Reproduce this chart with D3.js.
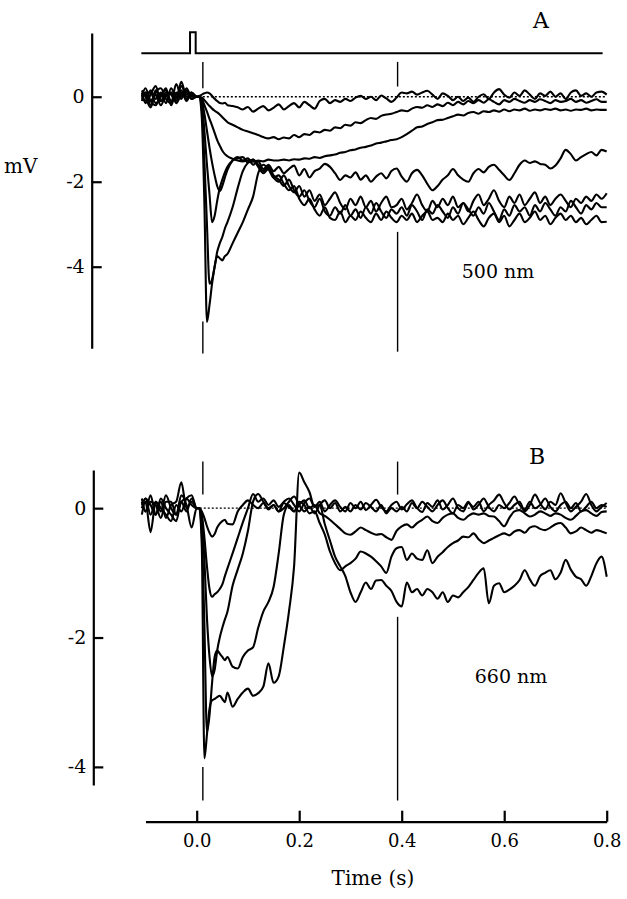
<!DOCTYPE html>
<html><head><meta charset="utf-8">
<script src="https://cdn.jsdelivr.net/npm/d3@7"></script>
<style>
body{margin:0;background:#fff;}
svg{display:block;}
text{font-family:"DejaVu Serif","Liberation Serif",serif;fill:#000;}
</style>
</head><body>
<svg id="chart" width="627" height="899"></svg>
<script>
// ---------- time grid (s) ----------
const timePre = [-0.107,-0.1,-0.09,-0.08,-0.07,-0.06,-0.05,-0.04,-0.03,-0.02,-0.01,0];
const timeOnset = [0.005,0.01,0.015,0.02,0.025,0.03,0.035,0.04,0.045,0.05,0.055,0.06];
const timePost = [0.07,0.08,0.09,0.10,0.11,0.12,0.13,0.14,0.15,0.16,
0.17,0.18,0.19,0.20,0.21,0.22,0.23,0.24,0.25,0.26,
0.27,0.28,0.29,0.30,0.31,0.32,0.33,0.34,0.35,0.36,
0.37,0.38,0.39,0.40,0.41,0.42,0.43,0.44,0.45,0.46,
0.47,0.48,0.49,0.50,0.51,0.52,0.53,0.54,0.55,0.56,
0.57,0.58,0.59,0.60,0.61,0.62,0.63,0.64,0.65,0.66,
0.67,0.68,0.69,0.70,0.71,0.72,0.73,0.74,0.75,0.76,
0.77,0.78,0.79,0.80];
const times = timePre.concat(timeOnset, timePost);

// ---------- Panel A (500 nm) traces, mV ----------
const traceA1 = [0.05,-0.1,0.15,-0.05,0.1,-0.15,0.2,0,0.1,-0.05,0.05,0,
0.02,0.05,0.08,0.1,0.08,0.02,-0.05,-0.1,-0.15,-0.16,-0.14,-0.2,
-0.22,-0.25,-0.3,-0.24,-0.35,-0.28,-0.22,-0.32,-0.26,-0.18,
-0.3,-0.22,-0.15,-0.25,-0.12,-0.2,-0.28,-0.1,-0.05,-0.15,
-0.08,-0.12,-0.05,-0.1,-0.02,0.02,-0.05,0,-0.08,0.03,
-0.04,-0.12,-0.02,0.1,0.08,0.12,0.05,0.1,0.14,0.05,
-0.05,0.08,0.02,-0.08,0,-0.1,-0.02,-0.12,0,0.06,
-0.05,0.1,0.18,0.05,-0.02,0.1,0.02,0.15,0.05,-0.05,
0.08,0.02,0.12,0,0.08,-0.05,0.1,0.15,0.02,0.08,
0,0.1,0.12,0.05];
const traceA2 = [-0.1,0.1,-0.2,0.15,-0.1,0.1,0.05,-0.1,0.25,0.05,0.1,0,
0,-0.02,-0.08,-0.15,-0.22,-0.28,-0.33,-0.37,-0.42,-0.48,-0.54,-0.6,
-0.66,-0.72,-0.78,-0.82,-0.86,-0.9,-0.95,-0.98,-0.95,-1.0,
-0.96,-0.98,-0.9,-0.95,-0.88,-0.9,-0.82,-0.84,-0.78,-0.8,
-0.72,-0.74,-0.66,-0.68,-0.6,-0.62,-0.55,-0.5,-0.52,-0.45,
-0.42,-0.4,-0.36,-0.32,-0.34,-0.28,-0.24,-0.26,-0.2,-0.24,
-0.18,-0.22,-0.14,-0.2,-0.12,-0.18,-0.1,-0.15,-0.08,-0.14,
-0.06,-0.12,-0.18,-0.08,-0.12,-0.05,-0.1,-0.14,-0.08,-0.12,
-0.06,-0.1,-0.15,-0.08,-0.12,-0.1,-0.05,-0.12,-0.08,-0.14,
-0.1,-0.06,-0.12,-0.12];
const traceA3 = [0.15,0.0,-0.25,0.1,0.2,-0.05,-0.15,0.3,0.0,0.15,-0.05,0,
0,-0.05,-0.2,-0.35,-0.52,-0.68,-0.85,-1.02,-1.15,-1.27,-1.35,-1.4,
-1.46,-1.5,-1.52,-1.5,-1.53,-1.5,-1.52,-1.48,-1.5,-1.5,
-1.48,-1.5,-1.47,-1.48,-1.45,-1.46,-1.42,-1.44,-1.4,-1.38,
-1.36,-1.32,-1.3,-1.26,-1.24,-1.2,-1.18,-1.15,-1.1,-1.08,
-1.05,-1.02,-1.0,-0.95,-0.88,-0.8,-0.72,-0.7,-0.64,-0.6,
-0.55,-0.54,-0.5,-0.46,-0.42,-0.44,-0.38,-0.36,-0.4,-0.34,
-0.36,-0.32,-0.35,-0.3,-0.34,-0.3,-0.32,-0.28,-0.33,-0.3,
-0.32,-0.29,-0.31,-0.28,-0.32,-0.3,-0.33,-0.3,-0.31,-0.28,
-0.32,-0.3,-0.31,-0.31];
const traceA4 = [0,0.2,-0.1,-0.2,0.05,0.15,-0.1,0.05,0.15,-0.1,0.1,0,
0,-0.1,-0.4,-0.8,-1.2,-1.55,-1.85,-2.1,-2.22,-2.1,-1.9,-1.72,
-1.5,-1.42,-1.5,-1.45,-1.6,-1.52,-1.7,-1.6,-1.75,-1.65,
-1.8,-1.7,-1.62,-1.85,-1.7,-1.9,-1.75,-1.69,-1.58,-1.65,
-1.8,-1.96,-1.85,-1.9,-1.78,-1.95,-1.85,-2.0,-1.88,-1.8,
-1.92,-1.75,-1.69,-1.88,-2.0,-1.8,-1.72,-1.85,-2.05,-2.2,
-2.1,-1.95,-1.85,-1.7,-1.85,-1.95,-2.0,-1.8,-1.7,-1.78,
-1.65,-1.6,-1.72,-1.85,-1.96,-1.8,-1.6,-1.5,-1.56,-1.52,
-1.58,-1.6,-1.69,-1.62,-1.45,-1.25,-1.35,-1.5,-1.42,-1.35,
-1.3,-1.38,-1.25,-1.29];
const traceA5 = [0.1,-0.15,0.05,0.25,-0.1,0,0.1,-0.05,0.35,0,0.05,0,
0,-0.15,-0.8,-1.6,-2.3,-2.95,-2.8,-2.45,-2.15,-1.95,-1.78,-1.65,
-1.5,-1.45,-1.42,-1.55,-1.48,-1.65,-1.8,-1.7,-1.9,-2.0,
-1.85,-2.1,-2.25,-2.1,-2.35,-2.2,-2.45,-2.3,-2.55,-2.4,
-2.25,-2.5,-2.65,-2.4,-2.55,-2.35,-2.6,-2.45,-2.7,-2.5,
-2.35,-2.6,-2.55,-2.4,-2.65,-2.5,-2.3,-2.55,-2.7,-2.45,
-2.6,-2.4,-2.55,-2.35,-2.6,-2.5,-2.7,-2.45,-2.3,-2.55,
-2.4,-2.2,-2.45,-2.6,-2.35,-2.5,-2.3,-2.55,-2.4,-2.25,
-2.5,-2.35,-2.55,-2.4,-2.3,-2.45,-2.6,-2.4,-2.5,-2.35,
-2.45,-2.3,-2.4,-2.27];
const traceA6 = [-0.05,0.1,0.1,-0.15,0,0.2,-0.2,0.1,-0.05,0.2,0,0,
0,-0.3,-1.5,-3.0,-4.4,-4.3,-4.0,-3.65,-3.45,-3.3,-3.1,-2.95,
-2.6,-2.15,-1.75,-1.55,-1.48,-1.6,-1.75,-1.65,-1.85,-1.95,
-2.1,-1.95,-2.2,-2.35,-2.2,-2.45,-2.6,-2.4,-2.7,-2.8,
-2.6,-2.75,-2.55,-2.8,-2.65,-2.85,-2.6,-2.75,-2.5,-2.7,
-2.85,-2.65,-2.75,-2.6,-2.8,-2.55,-2.7,-2.9,-2.65,-2.75,
-2.55,-2.7,-2.85,-2.6,-2.75,-2.5,-2.65,-2.8,-2.6,-2.75,
-2.5,-2.7,-2.9,-2.65,-2.8,-2.55,-2.7,-2.6,-2.8,-2.55,
-2.7,-2.5,-2.65,-2.8,-2.6,-2.7,-2.45,-2.6,-2.75,-2.55,
-2.65,-2.5,-2.6,-2.6];
const traceA7 = [0.1,0.05,-0.1,0.05,-0.2,0.05,0.1,-0.15,0.05,0.1,-0.05,0,
0,-0.5,-2.5,-5.3,-4.9,-4.4,-4.0,-3.75,-3.8,-3.85,-3.75,-3.7,
-3.45,-3.2,-2.95,-2.65,-2.35,-1.8,-1.6,-1.7,-1.9,-1.85,
-2.05,-2.2,-2.1,-2.4,-2.55,-2.4,-2.65,-2.8,-2.6,-2.85,
-2.9,-2.7,-2.95,-2.8,-2.9,-2.7,-2.85,-2.95,-2.75,-2.9,
-2.7,-2.85,-2.95,-2.8,-2.9,-2.75,-2.95,-2.8,-2.7,-2.9,
-2.85,-2.95,-2.75,-2.9,-2.8,-3.0,-2.85,-2.7,-2.9,-3.05,
-2.85,-2.75,-2.95,-2.8,-3.05,-2.9,-2.75,-2.95,-2.85,-2.7,
-2.9,-2.8,-3.0,-2.85,-2.75,-2.9,-2.8,-2.95,-2.85,-3.0,
-2.9,-2.8,-2.95,-2.94];

// ---------- Panel B (660 nm) traces, mV ----------
const traceB1 = [0.05,0.15,-0.1,0.1,-0.05,0.2,0.0,-0.1,0.1,0.15,0.05,0,
0,-0.05,-0.15,-0.28,-0.38,-0.44,-0.4,-0.3,-0.24,-0.2,-0.18,-0.24,
-0.25,-0.05,0.05,0.12,0.05,0,0.08,-0.02,0.05,-0.05,
0,0.1,0.18,0.05,-0.05,0.02,-0.08,0.05,0.12,0,
0.08,-0.05,0.02,-0.05,0.05,-0.02,0.08,0.02,-0.05,0.05,
-0.08,0,-0.05,0.02,-0.05,0.08,0,0.1,0.02,-0.05,
0.05,0.12,0,-0.08,0.05,0,0.1,-0.02,0.05,0.15,
0.02,-0.05,0.05,0,0.08,0.18,0.05,-0.02,0.1,0,
0.05,0.15,0.02,-0.05,0.05,0.1,0,0.08,-0.05,0.02,
0.1,0,0.05,0.02];
const traceB2 = [0.1,-0.05,0.2,-0.1,0.1,-0.15,0.05,0.1,0.4,0.0,0.1,0,
0,-0.1,-0.45,-0.9,-1.25,-1.37,-1.33,-1.3,-1.25,-1.18,-1.05,-0.93,
-0.7,-0.46,-0.22,0,0.22,0.1,0.15,0.05,0.12,0.02,
0.1,0.15,0.05,-0.05,0.08,0.15,0.02,0.1,-0.05,0.05,
0.12,0.02,-0.05,0.08,0,0.1,-0.03,0.05,0.13,0.02,
-0.05,0.05,0.1,-0.02,0.06,0.12,0,-0.06,0.08,0.02,
0.12,-0.02,0.05,0.15,0,-0.05,0.08,0.02,0.1,-0.05,
0.05,0.12,0.21,0.08,-0.02,0.05,0.1,-0.05,0.05,0.21,
0.08,-0.02,0.1,0.05,0.23,0.08,-0.05,0.02,0.1,0.22,
0.05,-0.05,0.02,0.08];
const traceB3 = [-0.1,0.1,-0.37,0.1,0.0,-0.1,-0.2,0.05,-0.05,0.15,0.2,0,
0,-0.15,-0.8,-1.7,-2.3,-2.6,-2.5,-2.2,-2.0,-1.85,-1.72,-1.6,
-1.2,-0.95,-0.7,-0.35,0.1,0.22,0.1,0,0.05,-0.05,
0.08,0.02,-0.05,0.05,0.12,0,0.05,-0.08,-0.12,-0.18,
-0.25,-0.32,-0.39,-0.41,-0.36,-0.3,-0.34,-0.38,-0.41,-0.4,
-0.45,-0.49,-0.35,-0.28,-0.25,-0.3,-0.23,-0.18,-0.13,-0.2,
-0.23,-0.15,-0.1,-0.08,-0.15,-0.18,-0.12,-0.08,-0.1,-0.08,
-0.12,-0.13,-0.2,-0.28,-0.15,-0.05,-0.03,-0.08,-0.13,-0.1,
-0.05,-0.08,-0.12,-0.08,-0.1,-0.15,-0.18,-0.12,-0.05,-0.03,
-0.08,-0.12,-0.06,-0.05];
const traceB4 = [0.0,0.15,0.05,-0.1,0.15,0.0,-0.1,-0.2,0.1,-0.05,0.15,0,
0,-0.4,-1.8,-3.46,-3.2,-2.7,-2.3,-2.2,-2.25,-2.3,-2.35,-2.3,
-2.45,-2.48,-2.3,-2.2,-2.15,-1.85,-1.6,-1.45,-1.22,-0.7,
-0.1,0.05,-0.05,0.1,0.05,-0.08,-0.05,-0.23,-0.41,-0.67,
-0.85,-0.96,-0.9,-0.85,-0.78,-0.67,-0.7,-0.75,-0.82,-0.9,
-1.0,-0.75,-0.62,-0.6,-0.8,-0.7,-0.78,-0.8,-0.65,-0.85,
-0.75,-0.68,-0.6,-0.54,-0.5,-0.44,-0.45,-0.39,-0.48,-0.54,
-0.5,-0.46,-0.42,-0.39,-0.42,-0.36,-0.34,-0.38,-0.3,-0.28,
-0.32,-0.34,-0.3,-0.25,-0.23,-0.3,-0.39,-0.36,-0.3,-0.34,
-0.38,-0.34,-0.36,-0.39];
const traceB5 = [0.15,-0.05,0.1,0.05,-0.15,0.1,0.1,-0.1,0.2,0.05,-0.3,0,
0,-0.6,-3.87,-3.5,-3.1,-2.97,-2.95,-2.92,-2.9,-2.95,-3.0,-2.85,
-3.07,-2.95,-2.85,-2.79,-2.9,-2.86,-2.76,-2.4,-2.7,-2.6,
-2.14,-1.6,-0.9,0.55,0.4,0.25,0.02,0.05,-0.25,-0.5,
-0.75,-0.9,-1.05,-1.3,-1.45,-1.3,-1.15,-1.25,-1.12,-1.11,
-1.2,-1.28,-1.45,-1.52,-1.15,-1.3,-1.25,-1.35,-1.25,-1.3,
-1.4,-1.3,-1.45,-1.35,-1.38,-1.3,-1.22,-1.11,-1.0,-0.93,
-1.47,-1.2,-1.16,-1.3,-1.26,-1.2,-1.11,-0.96,-1.1,-1.2,
-1.05,-1.0,-0.96,-1.1,-1.0,-0.8,-0.95,-1.06,-1.1,-1.2,
-1.05,-0.85,-0.75,-1.06];

const tracesA = [traceA1,traceA2,traceA3,traceA4,traceA5,traceA6,traceA7];
const tracesB = [traceB1,traceB2,traceB3,traceB4,traceB5];

// ---------- stimulus monitor (panel A top) ----------
const stimTimes  = [-0.108,-0.013,-0.013,-0.002,-0.002,0.792];
const stimLevels = [0,0,1,1,0,0];

// ---------- vertical time markers (s) and their segments (mV) ----------
const markerTimes = [0.012, 0.392];
const markerSegA = [[[0.82,0.2],[-5.29,-6.04]], [[0.82,0.24],[-3.18,-6.0]]];
const markerSegB = [[[0.72,0.21],[-4.0,-4.52]], [[0.72,0.21],[-1.68,-4.52]]];
const zeroLineStart = [0.012, 0.006];

// ---------- axis ticks & labels ----------
const xTicks = [0,0.2,0.4,0.6,0.8];
const yTicks = [0,-2,-4];
const xLabel = "Time (s)";
const yLabel = "mV";
const panelLabels = ["A","B"];
const wavelengthLabels = ["500 nm","660 nm"];

// ================= drawing =================
const svg = d3.select("#chart");
const x = d3.scaleLinear().domain([-0.1,0.8]).range([145.45,606.7]);
const yA = d3.scaleLinear().domain([1.5,-5.92]).range([33,348.3]);
const yB = d3.scaleLinear().domain([0.59,-4.28]).range([470,785]);
const yStim = d3.scaleLinear().domain([0,1]).range([53.3,32.3]);

function drawPanel(traces, y, segs, zeroStart, axisX){
  const g = svg.append("g");
  markerTimes.forEach((t,i)=>{
    segs[i].forEach(s=>{
      g.append("line").attr("x1",x(t)).attr("x2",x(t))
        .attr("y1",y(s[0])).attr("y2",y(s[1]))
        .attr("stroke","#000").attr("stroke-width",1.4);
    });
  });
  g.append("line").attr("x1",x(zeroStart)).attr("x2",x(0.8))
    .attr("y1",y(0)).attr("y2",y(0))
    .attr("stroke","#000").attr("stroke-width",1.3).attr("stroke-dasharray","2,2");
  const line = d3.line().x((d,i)=>x(times[i])).y(d=>y(d)).curve(d3.curveMonotoneX);
  traces.forEach(tr=>{
    if(tr.length!==times.length) console.error("length mismatch", tr.length);
    g.append("path").attr("d",line(tr)).attr("fill","none")
      .attr("stroke","#000").attr("stroke-width",2.1).attr("stroke-linejoin","round");
  });
  const ax = g.append("g").attr("transform",`translate(${axisX},0)`)
    .call(d3.axisLeft(y).tickValues(yTicks).tickFormat(d3.format("d"))
      .tickSizeInner(-10).tickSizeOuter(0).tickPadding(7));
  ax.select(".domain").attr("stroke","#000").attr("stroke-width",2.2);
  ax.selectAll(".tick line").attr("stroke","#000").attr("stroke-width",2.2);
  ax.selectAll(".tick text").attr("font-size",19).attr("font-family","DejaVu Serif").attr("fill","#000")
    .text(d=> d<0 ? "-"+Math.abs(d) : d);
}

drawPanel(tracesA, yA, markerSegA, zeroLineStart[0], 91.7);
drawPanel(tracesB, yB, markerSegB, zeroLineStart[1], 93.3);

svg.append("path")
  .attr("d", d3.line().x((d,i)=>x(stimTimes[i])).y(d=>yStim(d))(stimLevels))
  .attr("fill","none").attr("stroke","#000").attr("stroke-width",2);

const xa = svg.append("g").attr("transform","translate(0,821.7)")
  .call(d3.axisBottom(x).tickValues(xTicks).tickFormat(d3.format(".1f"))
    .tickSizeInner(-11).tickSizeOuter(0).tickPadding(13));
xa.select(".domain").attr("stroke","#000").attr("stroke-width",2.2);
xa.selectAll(".tick line").attr("stroke","#000").attr("stroke-width",2.2);
xa.selectAll(".tick text").attr("font-size",18).attr("font-family","DejaVu Serif").attr("fill","#000");

svg.append("text").attr("x",373).attr("y",885).attr("text-anchor","middle")
  .attr("font-size",20).text(xLabel);
svg.append("text").attr("x",4).attr("y",173).attr("font-size",20).text(yLabel);
svg.append("text").attr("x",541).attr("y",28).attr("text-anchor","middle")
  .attr("font-size",22).text(panelLabels[0]);
svg.append("text").attr("x",537).attr("y",464).attr("text-anchor","middle")
  .attr("font-size",22).text(panelLabels[1]);
svg.append("text").attr("x",498).attr("y",278).attr("text-anchor","middle")
  .attr("font-size",19).text(wavelengthLabels[0]);
svg.append("text").attr("x",511).attr("y",683).attr("text-anchor","middle")
  .attr("font-size",19).text(wavelengthLabels[1]);
</script>
</body></html>
